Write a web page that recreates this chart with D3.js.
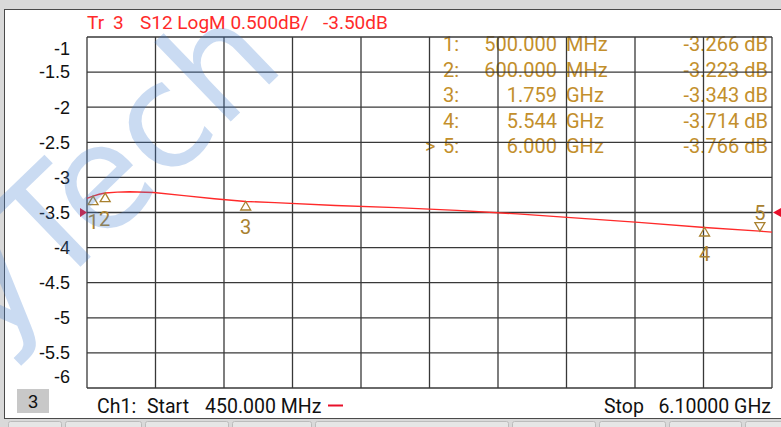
<!DOCTYPE html>
<html>
<head>
<meta charset="utf-8">
<script src="https://cdn.jsdelivr.net/npm/d3@7"></script>
<style>
  body { margin: 0; background: #d9d9d9; }
  text { white-space: pre; }
</style>
</head>
<body>
<div id="chart"></div>
<script>
// trace data (frequency in GHz, S12 in dB)
const traceFreq = [0.45, 0.5, 0.55, 0.6, 0.7, 0.8, 1.0, 1.25, 1.5, 1.759, 2.0, 2.5, 3.0, 3.5, 4.0, 4.5, 5.0, 5.544, 6.0, 6.1];
const traceVals = [-3.30, -3.266, -3.24, -3.223, -3.21, -3.205, -3.215, -3.26, -3.305, -3.343, -3.36, -3.40, -3.43, -3.47, -3.52, -3.58, -3.64, -3.714, -3.766, -3.78];

// markers
const markerIds = ["1", "2", "3", "4", "5"];
const markerFreq = [0.5, 0.6, 1.759, 5.544, 6.0];
const markerVals = [-3.266, -3.223, -3.343, -3.714, -3.766];
const markerFreqText = ["500.000", "600.000", "1.759", "5.544", "6.000"];
const markerUnits = ["MHz", "MHz", "GHz", "GHz", "GHz"];
const markerValText = ["-3.266 dB", "-3.223 dB", "-3.343 dB", "-3.714 dB", "-3.766 dB"];
const activeMarker = "5";

// axis
const yTicks = [-1, -1.5, -2, -2.5, -3, -3.5, -4, -4.5, -5, -5.5, -6];
const refLevel = -3.5;
const startFreq = 0.45, stopFreq = 6.1;

const W = 781, H = 427;
const plotL = 87, plotR = 772, plotT = 37, plotB = 388;
const red = "#ff2a2a", gold = "#c38f2c", markColor = "#a9812f", gridColor = "#383838";
const uiFont = "Roboto, 'Liberation Sans', sans-serif";

const svg = d3.select("#chart").append("svg")
    .attr("width", W)
    .attr("height", H);

const x = d3.scaleLinear().domain([startFreq, stopFreq]).range([plotL, plotR]);
const y = d3.scaleLinear().domain([-6, -1]).range([plotB, plotT]);

// window frame
svg.append("rect").attr("x", 0).attr("y", 0).attr("width", W).attr("height", H).attr("fill", "#d9d9d9");
svg.append("rect").attr("x", 4.5).attr("y", 9.5).attr("width", W).attr("height", 409)
    .attr("fill", "#fff").attr("stroke", "#4a4a4a").attr("stroke-width", 1);
// tabs under panel
[[8, 63], [65, 143], [145, 230], [232, 313], [315, 510], [512, 597], [599, 667], [669, 743], [745, 790]].forEach(t => {
  svg.append("rect").attr("x", t[0] + 0.5).attr("y", 421.5).attr("width", t[1] - t[0] - 2).attr("height", 10)
      .attr("rx", 2).attr("fill", "#e6e6e6").attr("stroke", "#bcbcbc");
});

// title, in pieces as the analyser spaces them
const title = svg.append("g").attr("fill", red)
    .style("font-family", uiFont).style("font-size", "19px");
[["Tr", 87], ["3", 113], ["S12 LogM 0.500dB/", 140], ["-3.50dB", 323]].forEach(p => {
  title.append("text").attr("x", p[1]).attr("y", 29).text(p[0]);
});

// marker table (drawn under the grid)
const table = svg.append("g")
    .style("font-family", uiFont)
    .style("font-size", "20px")
    .attr("fill", gold);
markerIds.forEach((id, i) => {
  const by = 51 + i * 25.5;
  if (id === activeMarker) table.append("text").attr("x", 425).attr("y", by).text(">");
  table.append("text").attr("x", 443).attr("y", by).text(id + ":");
  table.append("text").attr("x", 557).attr("y", by).attr("text-anchor", "end").text(markerFreqText[i]);
  table.append("text").attr("x", 566).attr("y", by).text(markerUnits[i]);
  table.append("text").attr("x", 768).attr("y", by).attr("text-anchor", "end").text(markerValText[i]);
});

// grid
const grid = svg.append("g").attr("stroke", gridColor).attr("stroke-width", 1.3);
const xDivs = d3.range(11).map(i => startFreq + i * (stopFreq - startFreq) / 10);
grid.selectAll(".v").data(xDivs).enter().append("line")
    .attr("x1", d => x(d)).attr("x2", d => x(d))
    .attr("y1", plotT).attr("y2", plotB);
grid.selectAll(".h").data(yTicks).enter().append("line")
    .attr("x1", plotL).attr("x2", plotR)
    .attr("y1", d => y(d)).attr("y2", d => y(d));

// y labels
svg.append("g")
    .style("font-family", "'Liberation Sans', Arial, sans-serif")
    .style("font-size", "18px")
    .attr("fill", "#111")
    .selectAll("text").data(yTicks).enter().append("text")
    .attr("x", 70)
    .attr("y", d => Math.min(Math.max(y(d), plotT + 12), plotB - 11))
    .attr("dy", "0.35em")
    .attr("text-anchor", "end")
    .text(d => d);

// trace
const line = d3.line().x(d => x(d[0])).y(d => y(d[1]));
svg.append("path")
    .datum(traceFreq.map((f, i) => [f, traceVals[i]]))
    .attr("d", line)
    .attr("fill", "none")
    .attr("stroke", red)
    .attr("stroke-width", 1.4);

// reference level arrows
const ry = y(refLevel);
svg.append("path").attr("d", `M${plotL - 7},${ry - 4.5}L${plotL},${ry}L${plotL - 7},${ry + 4.5}Z`).attr("fill", "#e8102a");
svg.append("path").attr("d", `M${W},${ry - 4.5}L${plotR + 1},${ry}L${W},${ry + 4.5}Z`).attr("fill", "#e8102a");

// markers
const mk = svg.append("g");
markerIds.forEach((id, i) => {
  const mx = x(markerFreq[i]), my = y(markerVals[i]);
  const active = id === activeMarker;
  const s = active ? -1 : 1;
  mk.append("path")
      .attr("d", `M${mx},${my}L${mx - 5},${my + s * 8.5}L${mx + 5},${my + s * 8.5}Z`)
      .attr("fill", "none")
      .attr("stroke", markColor)
      .attr("stroke-width", 1.3);
  mk.append("text")
      .attr("x", mx + (id === "2" ? -0.5 : 0))
      .attr("y", active ? my - 18 : my + 26)
      .attr("dy", "0.35em")
      .attr("text-anchor", "middle")
      .attr("fill", markColor)
      .style("font-family", uiFont)
      .style("font-size", "20px")
      .text(id);
});

// bottom status line
svg.append("rect").attr("x", 17).attr("y", 389).attr("width", 32).attr("height", 24).attr("fill", "#c8c8c8");
svg.append("text").attr("x", 33).attr("y", 408).attr("text-anchor", "middle")
    .style("font-family", "'Liberation Sans', Arial, sans-serif").style("font-size", "18px")
    .attr("fill", "#111").text("3");
const status = svg.append("g").attr("fill", "#111")
    .style("font-family", uiFont).style("font-size", "19.5px");
[["Ch1:", 97], ["Start", 147], ["450.000 MHz", 205], ["Stop", 604]].forEach(p => {
  status.append("text").attr("x", p[1]).attr("y", 413).text(p[0]);
});
status.append("text").attr("x", 771).attr("y", 413).attr("text-anchor", "end").text("6.10000 GHz");
svg.append("line").attr("x1", 328).attr("x2", 343).attr("y1", 405.5).attr("y2", 405.5)
    .attr("stroke", "#e8102a").attr("stroke-width", 2);

// watermark
svg.append("text")
    .attr("transform", "translate(-8,352) rotate(-44)")
    .attr("fill", "#3f7fd0")
    .attr("fill-opacity", 0.28)
    .style("font-family", "'DejaVu Sans', sans-serif")
    .style("font-size", "145px")
    .text("yTech");
</script>
</body>
</html>
